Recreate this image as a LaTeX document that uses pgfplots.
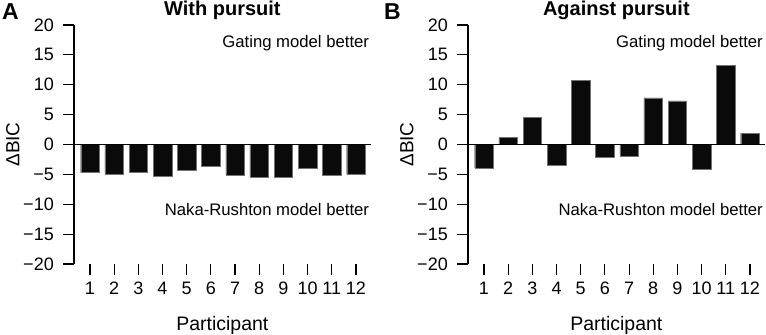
\documentclass[border=0pt]{standalone}
\usepackage{fontspec}
\setmainfont{Liberation Sans}
\usepackage{pgfplots}
\pgfplotsset{compat=1.18}
\tikzset{
  annot/.style={anchor=base east, inner sep=0pt, font=\fontsize{16.7bp}{18bp}\selectfont},
  barstyle/.style={fill=black!96, draw=black!55, line width=0.4bp},
}
\pgfplotsset{
  panel/.style={
    scale only axis, width=296.7bp, height=239bp,
    xmin=0.34, xmax=12.61, ymin=-20, ymax=20,
    axis lines=left, axis line style={-, line width=1.1bp},
    x axis line style={draw=none},
    tick align=outside, major tick length=10.7bp,
    tick style={line width=1.1bp, black},
    xtick={1,2,3,4,5,6,7,8,9,10,11,12},
    xticklabels={1,2,3,4,5,6,7,8,9,10,11,12},
    ytick={-20,-15,-10,-5,0,5,10,15,20},
    yticklabels={−20,−15,−10,−5,0,5,10,15,20},
    ticklabel style={font=\fontsize{18bp}{20bp}\selectfont},
    xticklabel style={yshift=-4bp},
    yticklabel style={xshift=-6bp},
    xlabel={Participant},
    ylabel={ΔBIC},
    every axis x label/.style={at={(axis description cs:0.5,-0.2762)}, anchor=base, font=\fontsize{19.5bp}{22bp}\selectfont},
    every axis y label/.style={at={(axis description cs:-0.1844,0.5)}, rotate=90, anchor=base, font=\fontsize{19bp}{22bp}\selectfont},
    every axis title/.style={at={(axis description cs:0.5,1)}, anchor=base, yshift=10bp, font=\bfseries\fontsize{20bp}{22bp}\selectfont},
    ybar, bar width=18.5bp,
    clip=false,
  },
}
\begin{document}
\begin{tikzpicture}
\useasboundingbox (-74bp,-71bp) rectangle (692bp,264bp);
\begin{axis}[panel, title={With pursuit}]
\addplot[barstyle] coordinates {(1,-4.7) (2,-4.95) (3,-4.7) (4,-5.35) (5,-4.3) (6,-3.7) (7,-5.1) (8,-5.4) (9,-5.4) (10,-3.9) (11,-5.2) (12,-5.0)};
\draw[line width=1.1bp] (rel axis cs:0,0.5) -- (rel axis cs:1,0.5);
\node[annot] at (axis cs:12.55,16.2) {Gating model better};
\node[annot] at (axis cs:12.55,-11.9) {Naka-Rushton model better};
\end{axis}
\begin{axis}[panel, at={(394bp,0bp)}, title={Against pursuit}]
\addplot[barstyle] coordinates {(1,-3.9) (2,1.2) (3,4.5) (4,-3.4) (5,10.7) (6,-2.1) (7,-2.0) (8,7.8) (9,7.3) (10,-4.1) (11,13.2) (12,1.9)};
\draw[line width=1.1bp] (rel axis cs:0,0.5) -- (rel axis cs:1,0.5);
\node[annot] at (axis cs:12.54,16.2) {Gating model better};
\node[annot] at (axis cs:12.54,-11.9) {Naka-Rushton model better};
\end{axis}
\node[anchor=base west, inner sep=0pt, font=\bfseries\fontsize{23bp}{26bp}\selectfont] at (-72bp,244bp) {A};
\node[anchor=base west, inner sep=0pt, font=\bfseries\fontsize{23bp}{26bp}\selectfont] at (310bp,244bp) {B};
\end{tikzpicture}
\end{document}
